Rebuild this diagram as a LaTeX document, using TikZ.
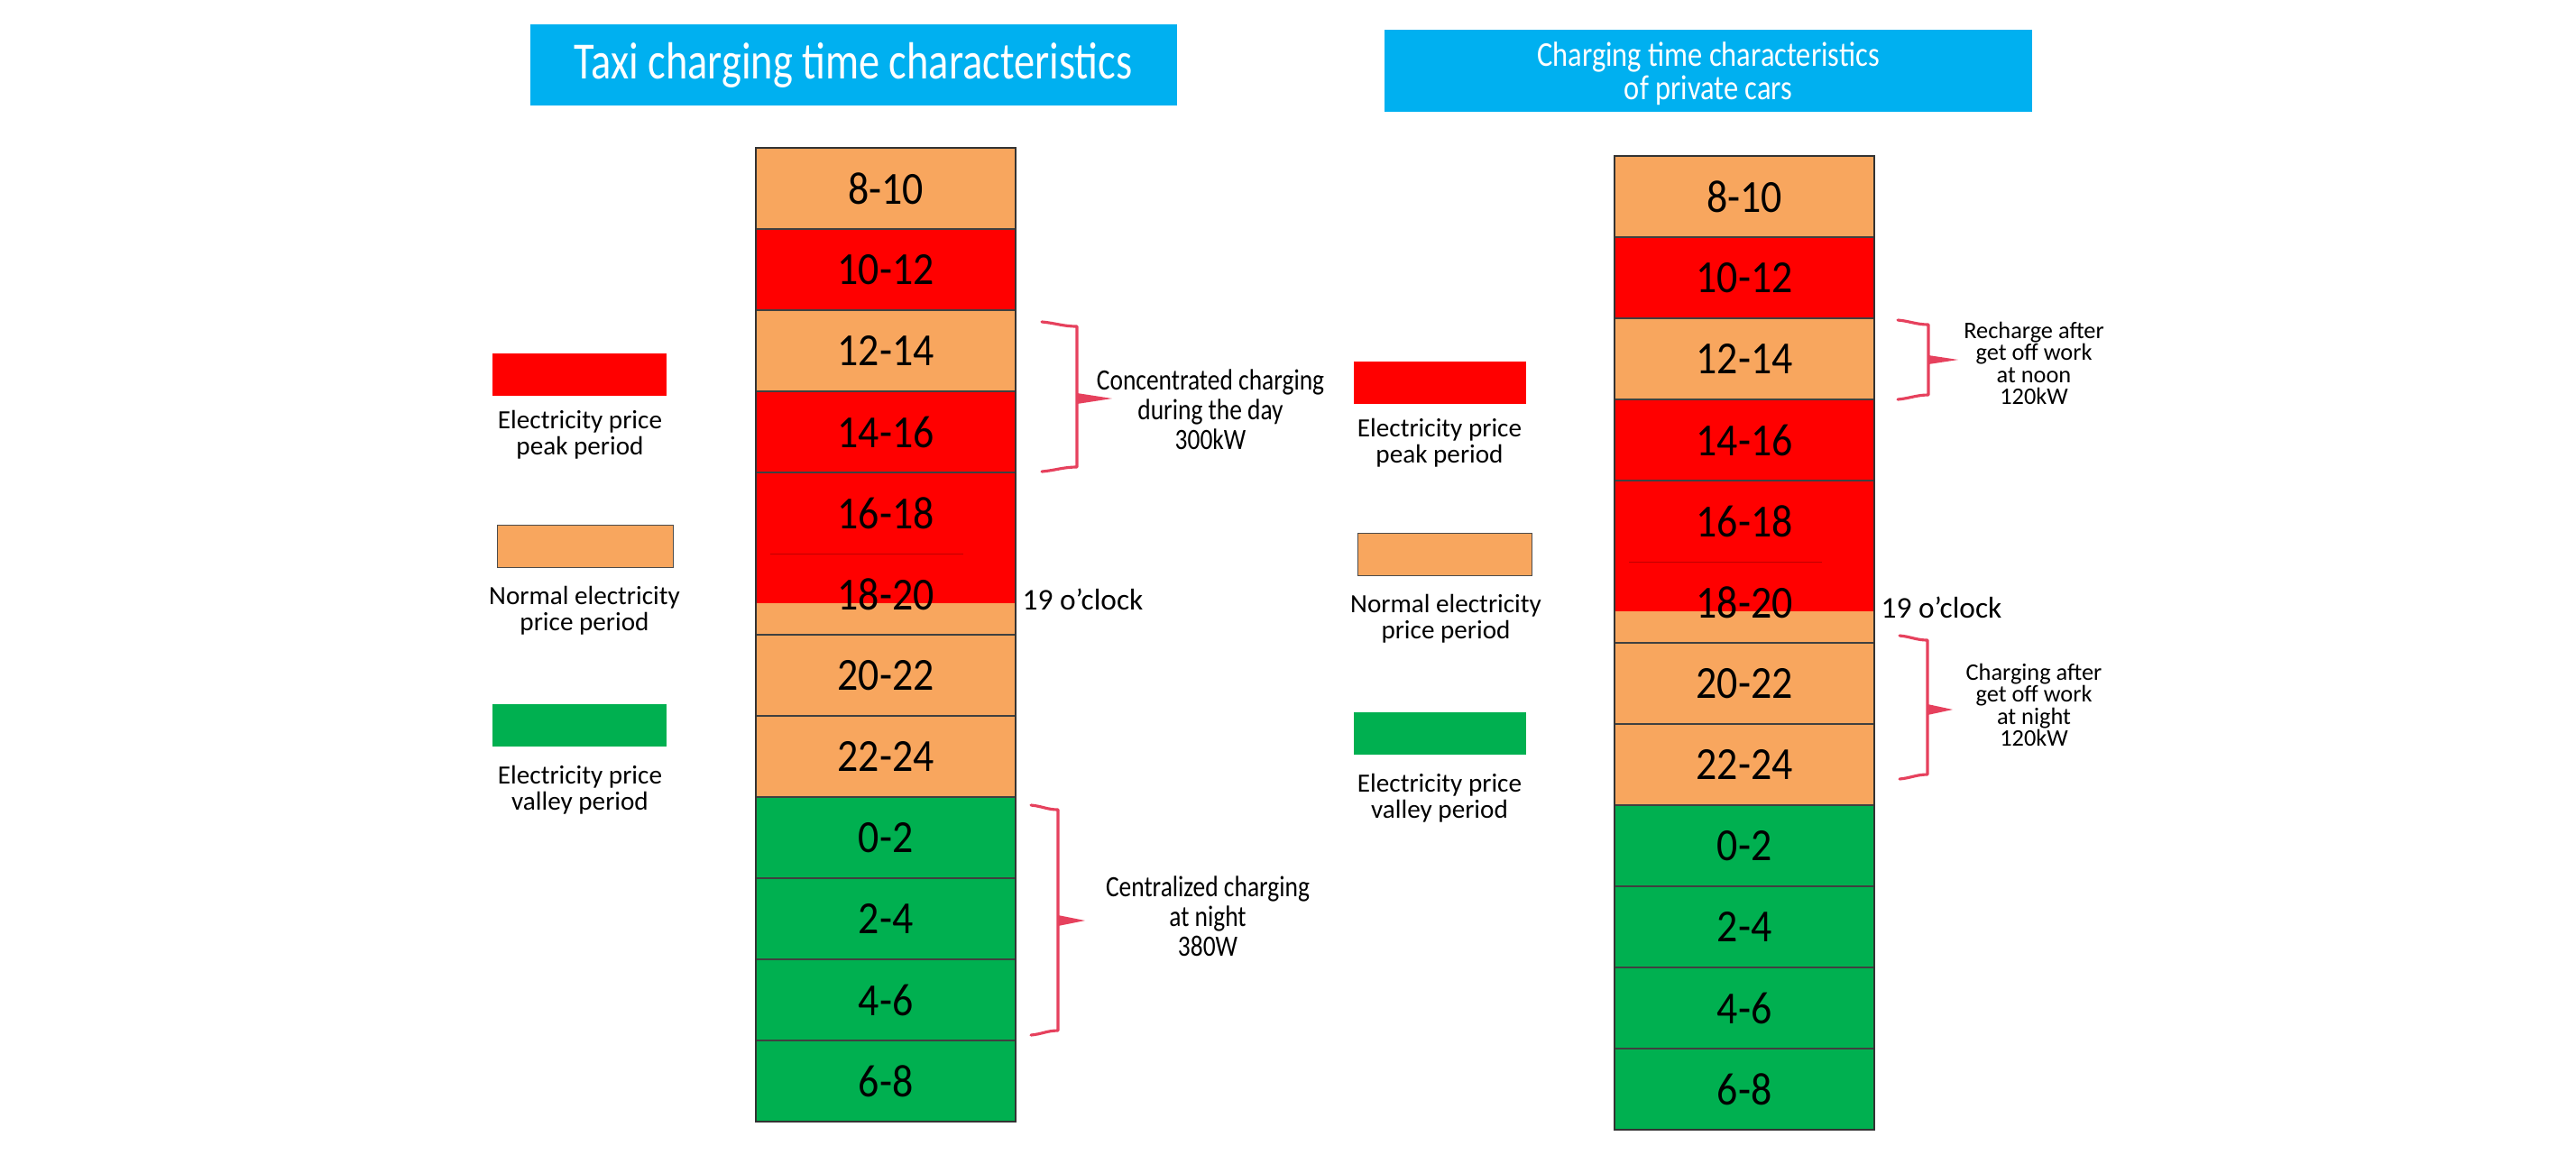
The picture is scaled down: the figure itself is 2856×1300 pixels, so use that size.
\documentclass[tikz,border=0pt]{standalone}
\usepackage{fontspec}
\usepackage{xcolor}
\usepackage{tikz}
\setmainfont{Carlito}
\newfontfamily\condfont[FakeStretch=0.84]{Carlito}
\newfontfamily\tallfont[FakeStretch=0.8]{Carlito}
\newfontfamily\cellfont[FakeStretch=0.9]{Carlito}

\definecolor{peakred}{HTML}{FF0000}
\definecolor{normorange}{HTML}{F8A65E}
\definecolor{valleygreen}{HTML}{00B050}
\definecolor{titleblue}{HTML}{00B0F0}
\definecolor{bracered}{HTML}{E6415D}

\begin{document}
\begin{tikzpicture}[x=0.1mm, y=-0.1mm,
    cell/.style={minimum width=28.8mm, minimum height=9mm, inner sep=0pt, outer sep=0pt,
      font=\cellfont\fontsize{14.5}{16}\selectfont},
    pk/.style={fill=peakred},
    nm/.style={fill=normorange},
    vl/.style={fill=valleygreen},
    sp/.style={fill=normorange, path picture={
      \fill[peakred] (path picture bounding box.north west) rectangle
        ([yshift=-5.5mm]path picture bounding box.north east);}},
    frame/.style={draw=black!80, line width=0.6pt},
    sep/.style={draw=black!75, line width=0.5pt},
    faintsep/.style={draw=red!75!black, line width=0.25pt},
    titlebox/.style={fill=titleblue, text=white, inner sep=0pt, outer sep=0pt, align=center},
    legbox/.style={inner sep=0pt, outer sep=0pt, minimum height=4.7mm},
    legtext/.style={inner sep=0pt, align=center, font=\fontsize{8.3}{6.8}\selectfont},
    bracetext/.style={inner sep=0pt, align=center, font=\condfont\fontsize{9.3}{9.4}\selectfont},
    smalltext/.style={inner sep=0pt, align=center, font=\fontsize{7.5}{6.9}\selectfont},
    clocktext/.style={inner sep=0pt, anchor=west, font=\fontsize{9.5}{11}\selectfont},
    brace/.style={draw=bracered, line width=0.9pt, line join=round, line cap=round}
  ]
  \useasboundingbox (0,0) rectangle (2856,1300);

  % titles
  \node[titlebox, minimum width=71.7mm, minimum height=9mm,
    font=\tallfont\fontsize{16.5}{18}\selectfont] (taxititle) at (946,72)
    {Taxi charging time characteristics};
  \node[titlebox, minimum width=71.8mm, minimum height=9.1mm] (privtitle) at (1894,78) {};
  \node[inner sep=0pt, text=white, align=center, font=\condfont\fontsize{11}{9.4}\selectfont]
    (privtitletext) at (1894,82) {Charging time characteristics\\of private cars};

  % time columns
  \foreach \lab/\sty [count=\i from 0] in {8-10/nm,10-12/pk,12-14/nm,14-16/pk,16-18/pk,18-20/sp,
      20-22/nm,22-24/nm,0-2/vl,2-4/vl,4-6/vl,6-8/vl} {
    \node[cell,\sty] (taxi\i) at (982,{209+90*\i}) {\lab};
    \node[cell,\sty] (priv\i) at (1934,{218+90*\i}) {\lab};
  }
  \foreach \k in {1,2,3,4,6,7,8,9,10,11} {
    \draw[sep] (taxi\k.north west) -- (taxi\k.north east);
    \draw[sep] (priv\k.north west) -- (priv\k.north east);
  }
  \draw[faintsep] ([xshift=1.6mm]taxi5.north west) -- ([xshift=-5.8mm]taxi5.north east);
  \draw[faintsep] ([xshift=1.6mm]priv5.north west) -- ([xshift=-5.8mm]priv5.north east);
  \draw[frame] (taxi0.north west) rectangle (taxi11.south east);
  \draw[frame] (priv0.north west) rectangle (priv11.south east);

  \node[clocktext] (taxiclock) at (1133,665) {19 o’clock};
  \node[clocktext] (privclock) at (2085,674) {19 o’clock};

  % legends
  \node[legbox, fill=peakred, minimum width=19.3mm] (taxipeak) at (642,415) {};
  \node[legtext] (taxipeaktext) at (643,482) {Electricity price\\peak period};
  \node[legbox, fill=normorange, draw=black!70, line width=0.4pt, minimum width=19.5mm] (taxinorm) at (649,606) {};
  \node[legtext] (taxinormtext) at (648,677) {Normal electricity\\price period};
  \node[legbox, fill=valleygreen, minimum width=19.3mm] (taxivalley) at (642,804) {};
  \node[legtext] (taxivalleytext) at (643,876) {Electricity price\\valley period};

  \node[legbox, fill=peakred, minimum width=19.1mm] (privpeak) at (1596,424) {};
  \node[legtext] (privpeaktext) at (1596,491) {Electricity price\\peak period};
  \node[legbox, fill=normorange, draw=black!70, line width=0.4pt, minimum width=19.3mm] (privnorm) at (1602,615) {};
  \node[legtext] (privnormtext) at (1603,686) {Normal electricity\\price period};
  \node[legbox, fill=valleygreen, minimum width=19.1mm] (privvalley) at (1596,813) {};
  \node[legtext] (privvalleytext) at (1596,885) {Electricity price\\valley period};

  % braces
  \draw[brace] (1155,357) to[out=-5,in=180] (1194,362) -- (1194,518) to[out=180,in=5] (1155,523);
  \fill[bracered] (1194,436) -- (1233,442) -- (1194,448) -- cycle;
  \node[bracetext] (daytext) at (1342,454) {Concentrated charging\\during the day\\300kW};

  \draw[brace] (1143,893) to[out=-5,in=180] (1173,898) -- (1173,1143) to[out=180,in=5] (1143,1148);
  \fill[bracered] (1173,1015) -- (1203,1021) -- (1173,1027) -- cycle;
  \node[bracetext] (nighttext) at (1339,1016) {Centralized charging\\at night\\380W};

  \draw[brace] (2104,355) to[out=-5,in=180] (2138,360) -- (2138,438) to[out=180,in=5] (2104,443);
  \fill[bracered] (2138,394) -- (2171,399) -- (2138,404) -- cycle;
  \node[smalltext] (noontext) at (2255,403) {Recharge after\\get off work\\at noon\\120kW};

  \draw[brace] (2106,705) to[out=-5,in=180] (2137,710) -- (2137,859) to[out=180,in=5] (2106,864);
  \fill[bracered] (2137,781) -- (2165,787) -- (2137,793) -- cycle;
  \node[smalltext] (eveningtext) at (2255,782) {Charging after\\get off work\\at night\\120kW};
\end{tikzpicture}
\end{document}
